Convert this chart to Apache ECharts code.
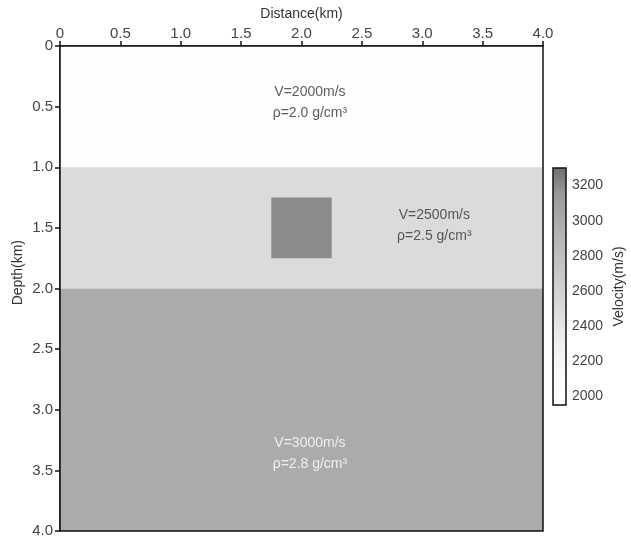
<!DOCTYPE html>
<html>
<head>
<meta charset="utf-8">
<script src="https://cdn.jsdelivr.net/npm/echarts@6/dist/echarts.min.js"></script>
<style>html,body{margin:0;padding:0;background:#fff;}#c{width:631px;height:539px;}</style>
</head>
<body>
<div id="c"></div>
<script>
// Model blocks: [x0 (km), x1 (km), depth0 (km), depth1 (km), velocity (m/s)]
const blocks = [
  [0, 4, 0, 1, 2000],
  [0, 4, 1, 2, 2500],
  [0, 4, 2, 4, 3000],
  [1.75, 2.25, 1.25, 1.75, 3200]
];
// Annotation positions [x km, depth km] and texts
const labelPos = [[2.07, 0.47], [3.1, 1.48], [2.07, 3.36]];
const labelText = ['V=2000m/s\nρ=2.0 g/cm³', 'V=2500m/s\nρ=2.5 g/cm³', 'V=3000m/s\nρ=2.8 g/cm³'];
const labelColor = ['#333', '#333', '#ffffff'];
const cbarTicks = [2000, 2200, 2400, 2600, 2800, 3000, 3200];
const cbarMin = 1950, cbarMax = 3300;
const grayStops = ['#ffffff', '#fcfcfc', '#f3f3f3', '#e6e6e6', '#d6d6d6', '#c8c8c8', '#bababa', '#ababab', '#989898', '#707070'];

const fmt = v => v === 0 ? '0' : v.toFixed(1);
const font = 'Liberation Sans, Arial, sans-serif';
const chart = echarts.init(document.getElementById('c'));
chart.setOption({
  animation: false,
  textStyle: { fontFamily: font },
  grid: [
    { left: 60, top: 46, width: 483, height: 485, show: true, borderColor: '#111', borderWidth: 1.5, backgroundColor: 'transparent', z: 10, containLabel: false, outerBoundsMode: 'none' },
    { left: 553, top: 168, width: 13, height: 237, show: true, borderColor: '#111', borderWidth: 1.5, backgroundColor: 'transparent', z: 10, containLabel: false, outerBoundsMode: 'none' }
  ],
  xAxis: [
    { gridIndex: 0, type: 'value', position: 'top', min: 0, max: 4, interval: 0.5,
      name: 'Distance(km)', nameLocation: 'middle', nameGap: 25,
      nameTextStyle: { color: '#333', fontSize: 14, fontFamily: font },
      axisLine: { lineStyle: { color: '#111', width: 1.5 } },
      axisTick: { length: 5, lineStyle: { color: '#111', width: 1.5 } },
      axisLabel: { formatter: fmt, color: '#444', fontSize: 15, margin: 5, fontFamily: font },
      splitLine: { show: false } },
    { gridIndex: 1, type: 'value', show: false, min: 0, max: 1 }
  ],
  yAxis: [
    { gridIndex: 0, type: 'value', inverse: true, min: 0, max: 4, interval: 0.5,
      axisLine: { lineStyle: { color: '#111', width: 1.5 } },
      axisTick: { length: 5, lineStyle: { color: '#111', width: 1.5 } },
      axisLabel: { formatter: fmt, color: '#444', fontSize: 15, margin: 7, fontFamily: font },
      splitLine: { show: false } },
    { gridIndex: 1, type: 'value', position: 'right', min: cbarMin, max: cbarMax,
      name: 'Velocity(m/s)', nameLocation: 'middle', nameGap: 46, nameRotate: 90,
      nameTextStyle: { color: '#333', fontSize: 14, fontFamily: font },
      axisLine: { show: false },
      axisTick: { show: true, length: 3, customValues: cbarTicks, lineStyle: { color: '#111' } },
      axisLabel: { color: '#444', fontSize: 14, margin: 6, customValues: cbarTicks, formatter: v => String(v), fontFamily: font },
      splitLine: { show: false } }
  ],
  visualMap: {
    type: 'continuous', seriesIndex: 0, dimension: 4, min: cbarMin, max: cbarMax,
    inRange: { color: grayStops }, calculable: false, text: null, showLabel: false,
    left: 553, top: 168, itemWidth: 13, itemHeight: 237, padding: 0, orient: 'vertical',
    hoverLink: false
  },
  graphic: [
    { type: 'text', left: 11, top: 240, rotation: Math.PI / 2,
      style: { text: 'Depth(km)', fill: '#333', font: '14px ' + font } }
  ],
  series: [
    { type: 'custom', xAxisIndex: 0, yAxisIndex: 0, data: blocks, z: 1,
      renderItem: function (params, api) {
        const p0 = api.coord([api.value(0), api.value(2)]);
        const p1 = api.coord([api.value(1), api.value(3)]);
        return { type: 'rect', shape: { x: p0[0], y: p0[1], width: p1[0] - p0[0], height: p1[1] - p0[1] },
          style: { fill: api.visual('color') } };
      } },
    { type: 'scatter', xAxisIndex: 0, yAxisIndex: 0, symbolSize: 0, z: 5,
      data: labelPos.map((p, i) => ({ value: p, label: { formatter: labelText[i], color: labelColor[i] } })),
      label: { show: true, position: 'inside', fontSize: 14, lineHeight: 21, align: 'center', fontFamily: font } }
  ]
});
</script>
</body>
</html>
